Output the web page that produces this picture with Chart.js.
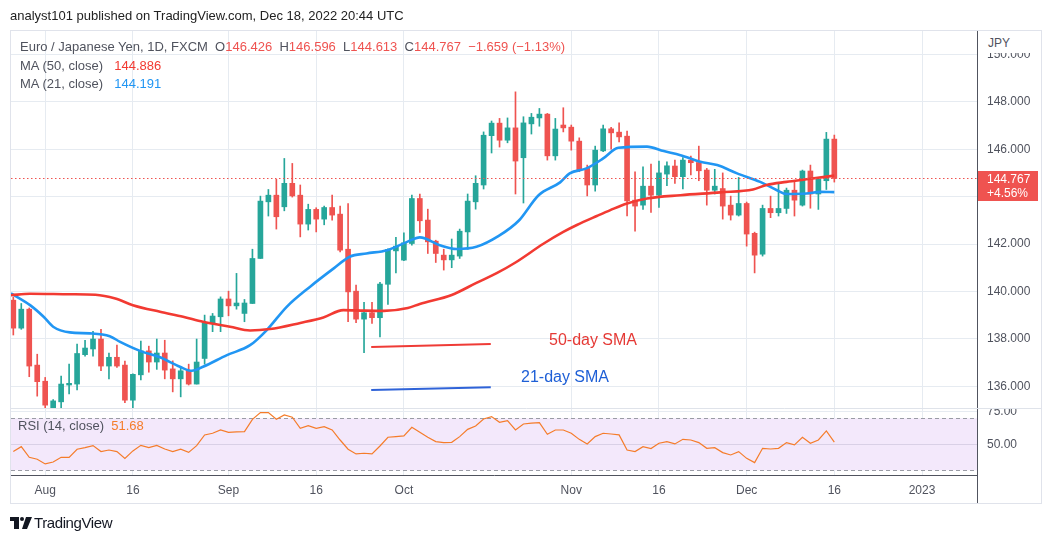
<!DOCTYPE html>
<html>
<head>
<meta charset="utf-8">
<script src="https://cdn.jsdelivr.net/npm/chart.js@4.4.0/dist/chart.umd.min.js"></script>
<style>
  body { margin: 0; background: #fff; font-family: "Liberation Sans", Arial, sans-serif; }
  #wrap { position: relative; width: 1053px; height: 542px; overflow: hidden; }
  #c { position: absolute; left: 0; top: 0; }
  .t { position: absolute; white-space: pre; line-height: 16px; }
  .g { color: #50535e; }
  .r { color: #ef5350; }
</style>
</head>
<body>
<div id="wrap">
  <canvas id="c" width="1053" height="542"></canvas>
  <div class="t" style="left:10px;top:8px;font-size:13px;color:#222">analyst101 published on TradingView.com, Dec 18, 2022 20:44 UTC</div>
  <div class="t g" id="leg1" style="left:20px;top:39px;font-size:13px"></div>
  <div class="t g" id="leg2" style="left:20px;top:58px;font-size:13px"></div>
  <div class="t g" id="leg3" style="left:20px;top:76px;font-size:13px"></div>
  <div class="t g" id="leg4" style="left:18px;top:418px;font-size:13px"></div>
  <div class="t" style="left:978px;top:31px;width:63px;height:22px;background:#fff"></div>
  <div class="t g" style="left:988px;top:35px;font-size:12px">JPY</div>
  <div class="t" style="left:549px;top:331px;font-size:16px;line-height:18px;color:#e53935">50-day SMA</div>
  <div class="t" style="left:521px;top:368px;font-size:16px;line-height:18px;color:#1e5fd6">21-day SMA</div>
  <svg style="position:absolute;left:10px;top:516px" width="22" height="14">
    <path d="M0 1h9v12H4V5H0z" fill="#131722"/>
    <circle cx="12" cy="3" r="2" fill="#131722"/>
    <path d="M16 1h6l-5 12h-5z" fill="#131722"/>
  </svg>
  <div class="t" style="left:34px;top:515px;font-size:15px;color:#131722;letter-spacing:-0.4px">TradingView</div>
</div>
<script>
// EUR/JPY daily candles, 26 Jul - 16 Dec 2022 (index 0 = Jul 26)
const open = [139.63,138.45,139.25,136.89,136.21,135.09,135.34,136.05,136.09,137.33,
  137.57,137.99,136.85,137.22,136.89,135.41,136.48,137.49,137.02,137.40,
  136.73,136.31,136.65,136.09,137.17,138.65,138.93,139.68,139.39,139.07,
  139.49,141.39,143.78,144.06,143.57,144.56,144.06,142.84,143.46,143.05,
  143.54,143.26,141.78,140.01,138.83,139.10,138.89,140.30,141.71,141.32,
  142.02,143.92,143.01,142.12,141.53,141.33,141.49,142.51,143.78,144.49,
  146.57,147.10,146.38,146.90,145.64,147.07,147.32,147.48,145.72,147.02,
  146.93,146.34,145.19,144.49,145.93,146.86,146.72,146.55,143.85,143.64,
  144.44,144.06,144.95,145.29,144.84,145.54,145.44,145.12,144.27,144.34,
  143.64,143.22,143.71,142.45,141.57,143.50,143.32,143.50,144.27,143.64,
  145.08,144.11,144.67,146.426];
const high = [139.76,139.49,139.30,137.35,136.37,135.44,136.43,136.93,137.78,137.94,
  138.31,138.40,137.40,137.73,137.06,136.52,137.90,137.69,137.99,137.94,
  137.07,136.79,136.93,137.99,139.00,139.07,139.77,140.01,140.76,139.66,
  141.78,144.02,144.30,144.73,145.61,145.40,144.49,143.68,143.53,143.60,
  144.06,143.60,143.71,140.27,139.54,139.54,140.38,141.80,142.28,142.47,
  144.06,144.11,143.47,142.16,141.78,142.21,142.63,144.11,144.88,146.73,
  147.19,147.30,147.32,148.42,147.37,147.51,147.72,147.51,147.30,147.75,
  147.02,146.48,145.33,146.13,147.02,146.92,147.11,146.76,145.05,145.26,
  145.37,145.50,145.47,145.54,145.65,145.71,146.13,145.19,145.15,145.00,
  144.02,144.81,143.77,142.50,143.64,144.02,144.56,144.36,144.62,145.12,
  145.33,144.73,146.71,146.596];
const low = [138.16,138.40,136.40,135.58,135.05,135.05,135.09,135.67,135.84,137.27,
  137.27,136.65,136.31,136.79,135.30,135.09,136.26,136.59,136.71,136.31,
  135.76,135.55,136.05,136.09,136.93,138.30,138.30,138.97,139.25,138.72,
  139.49,141.39,143.18,142.63,143.40,143.98,142.30,142.59,142.51,142.81,
  143.01,141.67,138.72,138.68,137.41,138.65,138.08,139.45,140.78,141.30,
  141.95,142.49,141.60,141.22,140.90,141.00,141.39,141.78,143.47,144.32,
  145.84,146.09,146.27,144.11,143.73,146.64,146.97,145.54,145.54,146.73,
  145.96,145.05,144.03,144.23,145.90,146.00,146.31,143.18,142.54,143.46,
  143.33,143.54,144.46,144.56,144.32,144.91,144.67,143.64,144.11,143.05,
  143.01,143.18,141.91,140.78,141.49,143.11,143.18,143.29,143.18,143.60,
  143.51,143.46,144.30,144.613];
const close = [138.45,139.25,136.85,136.19,135.20,135.38,136.09,136.12,137.38,137.61,
  137.99,136.85,137.22,136.85,135.41,136.50,137.49,137.02,137.40,136.68,
  136.31,136.65,136.09,137.02,138.67,138.96,139.68,139.39,139.51,139.51,
  141.39,143.81,144.06,143.15,144.56,144.03,142.84,143.46,143.05,143.54,
  143.22,141.74,139.98,138.83,139.10,138.89,140.31,141.77,141.91,142.05,
  143.92,142.98,142.09,141.60,141.33,141.53,142.54,143.81,144.56,146.59,
  147.10,146.38,146.90,145.50,147.11,147.35,147.48,145.72,146.85,146.90,
  146.34,145.12,144.49,145.96,146.86,146.69,146.52,143.82,143.60,144.44,
  144.06,145.00,145.30,144.84,145.54,145.43,145.09,144.27,144.44,143.60,
  143.22,143.71,142.42,141.53,143.50,143.32,143.50,144.27,143.85,145.08,
  144.11,144.73,146.426,144.767];

// moving averages (index, value)
const ma50Idx = [-0.3,2.1,7.1,10.3,12.8,15.0,18.4,21.3,23.8,27.2,29.7,32.2,36.0,38.9,41.4,44.0,46.5,49.5,51.0,55.0,
  58.1,60.7,63.0,66.5,69.0,70.7,73.2,74.9,77.0,79.5,83.7,88.7,92.8,94.5,97.0,99.5,103];
const ma50Val = [139.84,139.90,139.88,139.86,139.70,139.42,139.14,138.93,138.72,138.51,138.35,138.41,138.67,138.90,139.21,139.19,139.18,139.30,139.47,139.85,
  140.36,140.78,141.22,142.01,142.51,142.80,143.18,143.43,143.71,143.92,144.06,144.18,144.30,144.49,144.62,144.73,144.886];
const ma21Idx = [-0.3,2.1,3.8,5.0,7.1,9.6,12.1,13.4,15.9,18.4,20.9,22.4,23.8,26.8,29.7,31.8,34.3,37.2,40.2,42.2,
  44.3,46.9,49.4,51.0,53.5,55.6,58.1,60.9,63.4,65.9,68.6,69.8,71.9,74.0,75.9,79.5,81.6,83.7,86.2,88.3,
  90.8,93.7,95.8,97.0,99.5,101.2,103];
const ma21Val = [139.92,139.42,138.93,138.51,138.27,138.23,138.11,137.87,137.49,137.22,136.82,136.65,136.82,137.31,137.73,138.37,139.35,140.19,140.97,141.46,
  141.60,141.74,142.09,142.28,141.95,141.79,141.88,142.34,142.98,144.06,144.60,144.98,145.19,145.61,146.06,146.11,145.92,145.75,145.47,145.33,
  144.98,144.62,144.27,144.11,144.13,144.20,144.191];

// RSI(14) per candle
const rsi = [44.4,48.2,40.0,38.5,34.9,36.4,40.0,40.0,46.2,47.4,
  49.0,44.4,45.6,44.4,39.2,44.9,49.2,47.4,49.2,46.4,
  44.4,46.2,43.8,49.0,57.2,58.5,61.0,59.2,59.5,59.7,
  69.2,74.4,74.4,69.2,72.6,70.8,62.3,64.4,62.3,63.6,
  61.0,53.3,46.2,42.6,43.1,42.6,48.7,55.4,55.9,56.4,
  63.1,59.2,55.4,52.1,51.3,51.5,55.9,61.5,64.1,69.5,
  71.3,66.9,68.2,61.0,65.6,66.2,66.7,57.7,61.0,61.0,
  58.5,53.8,50.3,55.9,58.5,57.9,57.2,45.6,44.4,48.2,
  46.7,50.8,52.1,50.3,53.8,53.3,51.3,46.9,47.4,43.6,
  41.8,44.4,39.2,35.9,46.9,46.4,46.9,51.3,49.5,55.4,
  50.8,53.3,60.3,51.68];
const rsiBand = [70, 30];

// hand-drawn annotation lines (index, price)
const annIdx = [44.9, 59.9];
const ann50 = [137.65, 137.78];
const ann21 = [135.84, 135.96];

// axis ticks
const tickIdx = [4, 15, 27, 38, 49, 70, 81, 92, 103, 114];
const tickLabels = ['Aug', '16', 'Sep', '16', 'Oct', 'Nov', '16', 'Dec', '16', '2023'];
const priceTicks = [136, 138, 140, 142, 144, 146, 148, 150];
const rsiTicks = [50, 75];

const GREEN = '#26a69a', RED = '#ef5350', GRID = '#e6ebf1', AXIS = '#50535e';
const FONT = '"Liberation Sans", Arial, sans-serif';
const idx = close.map((_, i) => i);
const last = close.length - 1;
const colorOf = i => close[i] >= open[i] ? GREEN : RED;

// legends from the data
const chg = close[last] - close[last - 1];
const pct = chg / close[last - 1] * 100;
const sgn = v => (v < 0 ? '\u2212' : '+');
document.getElementById('leg1').innerHTML =
  'Euro / Japanese Yen, 1D, FXCM  O<span class="r">' + open[last].toFixed(3) +
  '</span>  H<span class="r">' + high[last].toFixed(3) +
  '</span>  L<span class="r">' + low[last].toFixed(3) +
  '</span>  C<span class="r">' + close[last].toFixed(3) +
  '</span>  <span class="r">' + sgn(chg) + Math.abs(chg).toFixed(3) + ' (' + sgn(pct) + Math.abs(pct).toFixed(2) + '%)</span>';
document.getElementById('leg2').innerHTML = 'MA (50, close)  <span style="color:#f23a32;margin-left:4px">' + ma50Val[ma50Val.length - 1].toFixed(3) + '</span>';
document.getElementById('leg3').innerHTML = 'MA (21, close)  <span style="color:#2196f3;margin-left:4px">' + ma21Val[ma21Val.length - 1].toFixed(3) + '</span>';
document.getElementById('leg4').innerHTML = 'RSI (14, close)  <span style="color:#f57c2a">' + rsi[last].toFixed(2) + '</span>';

const panes = {
  id: 'panes',
  beforeDatasetsDraw(ch) {
    const { ctx, chartArea: a, scales: { yRsi } } = ch;
    const t = yRsi.getPixelForValue(rsiBand[0]);
    const b = yRsi.getPixelForValue(rsiBand[1]);
    ctx.save();
    ctx.fillStyle = '#f3e8fb';
    ctx.fillRect(a.left, t, a.right - a.left, b - t);
    ctx.strokeStyle = '#d9d0e6';
    ctx.lineWidth = 1;
    const m = Math.round(yRsi.getPixelForValue(50)) + 0.5;
    ctx.beginPath(); ctx.moveTo(a.left, m); ctx.lineTo(a.right, m); ctx.stroke();
    ctx.strokeStyle = '#9a9ca5';
    ctx.setLineDash([4, 3]);
    [t, b].forEach(p => {
      const yy = Math.round(p) + 0.5;
      ctx.beginPath(); ctx.moveTo(a.left, yy); ctx.lineTo(a.right, yy); ctx.stroke();
    });
    ctx.restore();
  },
  afterDraw(ch) {
    const { ctx, chartArea: a, scales: { y, yRsi } } = ch;
    const right = a.right + 65;
    ctx.save();
    // last price dotted line
    const py = Math.round(y.getPixelForValue(close[last])) + 0.5;
    ctx.strokeStyle = RED;
    ctx.setLineDash([1.5, 2.5]);
    ctx.beginPath(); ctx.moveTo(a.left, py); ctx.lineTo(a.right, py); ctx.stroke();
    ctx.setLineDash([]);
    // pane separator, hides the top of the 75 label
    const sep = Math.round(yRsi.top) + 0.5;
    ctx.fillStyle = '#fff';
    ctx.fillRect(a.right + 1, sep - 10, 63, 10);
    ctx.strokeStyle = '#dfe3ea';
    ctx.beginPath(); ctx.moveTo(a.left, sep); ctx.lineTo(right, sep); ctx.stroke();
    // axis line through the bottom strip
    ctx.strokeStyle = AXIS;
    ctx.beginPath(); ctx.moveTo(a.right + 0.5, a.bottom); ctx.lineTo(a.right + 0.5, a.bottom + 28); ctx.stroke();
    // outer frame
    ctx.strokeStyle = '#e0e3eb';
    ctx.strokeRect(a.left - 0.5, a.top + 0.5, right - a.left, a.bottom + 28 - a.top);
    // last price label
    ctx.fillStyle = RED;
    ctx.fillRect(a.right + 1, py - 7.5, 60, 30);
    ctx.fillStyle = '#fff';
    ctx.font = '12px ' + FONT;
    ctx.textBaseline = 'middle';
    ctx.fillText(close[last].toFixed(3), a.right + 10, py + 1.5);
    const chgAll = (close[last] / close[0] - 1) * 100;
    ctx.fillText(sgn(chgAll) + Math.abs(chgAll).toFixed(2) + '%', a.right + 10, py + 15.5);
    ctx.restore();
  }
};

new Chart(document.getElementById('c'), {
  type: 'bar',
  data: {
    datasets: [
      {
        type: 'line', data: ma50Idx.map((v, i) => ({ x: v, y: ma50Val[i] })),
        borderColor: '#f23a32', borderWidth: 2.6, pointRadius: 0, cubicInterpolationMode: 'monotone',
        yAxisID: 'y', order: 1
      },
      {
        type: 'line', data: ma21Idx.map((v, i) => ({ x: v, y: ma21Val[i] })),
        borderColor: '#2196f3', borderWidth: 2.6, pointRadius: 0, cubicInterpolationMode: 'monotone',
        yAxisID: 'y', order: 1
      },
      {
        type: 'line', data: annIdx.map((v, i) => ({ x: v, y: ann50[i] })),
        borderColor: '#ef3b36', borderWidth: 2, pointRadius: 0, yAxisID: 'y', order: 1
      },
      {
        type: 'line', data: annIdx.map((v, i) => ({ x: v, y: ann21[i] })),
        borderColor: '#2f63d8', borderWidth: 2, pointRadius: 0, yAxisID: 'y', order: 1
      },
      {
        type: 'line', data: idx.map(i => ({ x: i, y: rsi[i] })),
        borderColor: '#f57c2a', borderWidth: 1.2, pointRadius: 0, tension: 0,
        yAxisID: 'yRsi', order: 1
      },
      {
        label: 'wick', data: idx.map(i => ({ x: i, y: [low[i], high[i]] })),
        backgroundColor: idx.map(colorOf), barThickness: 1, grouped: false,
        yAxisID: 'y', order: 3
      },
      {
        label: 'body', data: idx.map(i => ({ x: i, y: [open[i], close[i]] })),
        backgroundColor: idx.map(colorOf), barThickness: 5, minBarLength: 1, grouped: false,
        yAxisID: 'y', order: 2
      }
    ]
  },
  options: {
    responsive: false,
    animation: false,
    devicePixelRatio: 1,
    layout: { padding: { left: 11, top: 30, right: 11, bottom: 39 } },
    plugins: { legend: { display: false }, tooltip: { enabled: false } },
    scales: {
      x: {
        type: 'linear', min: -0.29, max: 120.9, offset: false,
        grid: { color: GRID, offset: false, drawTicks: false },
        border: { display: true, color: AXIS },
        afterBuildTicks: s => { s.ticks = tickIdx.map(v => ({ value: v })); },
        afterFit: s => { s.height = 28; },
        ticks: {
          autoSkip: false, maxRotation: 0, padding: 8, color: AXIS,
          font: { family: FONT, size: 12 },
          callback: v => tickLabels[tickIdx.indexOf(v)]
        }
      },
      y: {
        type: 'linear', position: 'right', stack: 'pane', stackWeight: 378,
        min: 135.08, max: 151.03,
        grid: { color: GRID, drawTicks: false },
        border: { display: true, color: AXIS },
        afterBuildTicks: s => { s.ticks = priceTicks.map(v => ({ value: v })); },
        afterFit: s => { s.width = 65; },
        ticks: { padding: 10, color: AXIS, font: { family: FONT, size: 12 }, callback: v => v.toFixed(3) }
      },
      yRsi: {
        type: 'linear', position: 'right', stack: 'pane', stackWeight: 67,
        min: 26.4, max: 77.9,
        grid: { color: GRID, drawTicks: false },
        border: { display: true, color: AXIS },
        afterBuildTicks: s => { s.ticks = rsiTicks.map(v => ({ value: v })); },
        afterFit: s => { s.width = 65; },
        ticks: { padding: 10, color: AXIS, font: { family: FONT, size: 12 }, callback: v => v.toFixed(2) }
      }
    }
  },
  plugins: [panes]
});
</script>
</body>
</html>
